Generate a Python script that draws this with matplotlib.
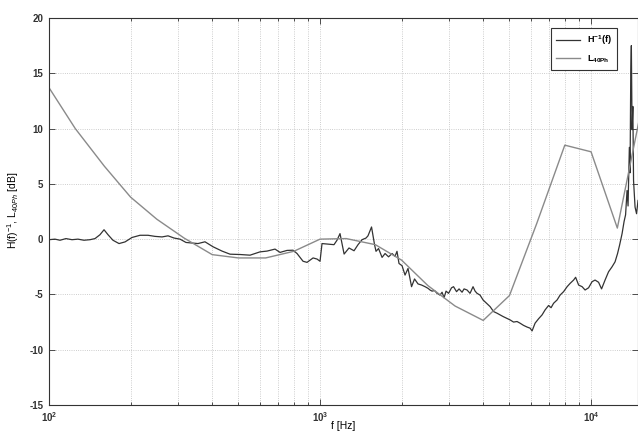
import matplotlib
matplotlib.use('Agg')
import matplotlib.pyplot as plt
from matplotlib.ticker import FixedLocator, FixedFormatter, LogLocator, NullFormatter

# ---- data ----
h_freq = [100, 105.2, 109.8, 115.5, 121.6, 127.9, 134.6, 141.7, 147.8, 154.2,
          159.6, 165.1, 172.2, 181.3, 190.8, 202.4, 216.7, 231.9, 246.1, 261.2,
          274.9, 289.3, 304.4, 320.3, 337.2, 354.5, 376.3, 402.9, 434.9, 465.5,
          506.9, 551.8, 600.6, 637.4, 682.3, 711.9, 755.4, 795.1, 822.5, 865.6,
          895.4, 942.6, 974.8, 1000, 1017, 1070, 1126, 1155, 1185, 1227,
          1279, 1335, 1381, 1429, 1478, 1503, 1549, 1589, 1609, 1644,
          1694, 1738, 1790, 1844, 1891, 1923, 1956, 2007, 2059, 2112,
          2176, 2232, 2299, 2369, 2441, 2503, 2546, 2590, 2646, 2702,
          2772, 2820, 2868, 2917, 2980, 3056, 3109, 3189, 3258, 3342,
          3400, 3487, 3577, 3669, 3733, 3796, 3894, 3995, 4115, 4240,
          4368, 4500, 4617, 4736, 4876, 5023, 5176, 5332, 5470, 5636,
          5806, 5956, 6059, 6215, 6403, 6596, 6767, 6971, 7120, 7273,
          7493, 7687, 7918, 8159, 8370, 8622, 8771, 8997, 9267, 9505,
          9790, 10085, 10346, 10658, 10933, 11264, 11603, 11953, 12262, 12525,
          12740, 13015, 13239, 13408, 13577, 13693, 13845, 13928, 14011, 14082,
          14167, 14262, 14347, 14532, 14717, 14906]
h_db = [-0.05, 0.0, -0.1, 0.05, -0.05, 0.0, -0.1, -0.05, 0.05, 0.4,
        0.85, 0.4, -0.1, -0.4, -0.25, 0.15, 0.35, 0.35, 0.25, 0.2,
        0.3, 0.1, 0.0, -0.3, -0.35, -0.4, -0.24, -0.69, -1.08, -1.36,
        -1.39, -1.45, -1.15, -1.08, -0.9, -1.2, -1.02, -1.0, -1.3, -2.0,
        -2.1, -1.7, -1.8, -2.0, -0.4, -0.45, -0.5, -0.1, 0.5, -1.35,
        -0.8, -1.05, -0.5, -0.05, 0.1, 0.3, 1.1, -0.5, -1.1, -0.85,
        -1.65, -1.3, -1.6, -1.3, -1.55, -1.1, -2.2, -2.4, -3.25, -2.65,
        -4.3, -3.6, -4.05, -4.15, -4.3, -4.45, -4.6, -4.7, -4.65, -4.9,
        -5.06, -4.8, -5.3, -4.7, -4.9, -4.4, -4.3, -4.75, -4.5, -4.8,
        -4.5, -4.6, -4.9, -4.3, -4.7, -4.9, -5.06, -5.5, -5.8, -6.1,
        -6.55, -6.7, -6.85, -7.0, -7.15, -7.3, -7.5, -7.45, -7.6, -7.8,
        -7.95, -8.05, -8.3, -7.6, -7.2, -6.85, -6.4, -6.0, -6.2, -5.8,
        -5.5, -5.06, -4.75, -4.3, -4.0, -3.7, -3.45, -4.15, -4.3, -4.6,
        -4.4, -3.85, -3.7, -3.9, -4.5, -3.7, -2.95, -2.5, -2.05, -1.3,
        -0.55, 0.5, 1.6, 2.2, 4.4, 3.0, 8.3, 6.0, 15.0, 17.5,
        9.9, 12.0, 5.3, 2.9, 2.3, 3.5]

l_freq = [100, 125, 160, 200, 250, 315, 400, 500, 630, 800, 1000, 1250,
          1600, 2000, 2500, 3150, 4000, 5000, 6300, 8000, 10000, 12500, 16000]
l_db = [13.7, 10.0, 6.6, 3.8, 1.8, 0.1, -1.4, -1.7, -1.7, -1.1, 0.0, 0.05,
        -0.5, -1.9, -4.2, -6.05, -7.35, -5.1, 1.4, 8.5, 7.9, 1.0, 14.0]

y_ticks = [-15, -10, -5, 0, 5, 10, 15, 20]
y_tick_labels = ['-15', '-10', '-5', '0', '5', '10', '15', '20']
x_ticks = [100, 1000, 10000]
x_tick_labels = [r'$\mathbf{10^{2}}$', r'$\mathbf{10^{3}}$', r'$\mathbf{10^{4}}$']

# ---- style ----
plt.rcParams['font.family'] = ['Liberation Sans', 'DejaVu Sans']
plt.rcParams['mathtext.fontset'] = 'custom'
plt.rcParams['mathtext.rm'] = 'Liberation Sans'
plt.rcParams['mathtext.it'] = 'Liberation Sans:italic'
plt.rcParams['mathtext.bf'] = 'Liberation Sans:bold'
plt.rcParams['axes.unicode_minus'] = False

fig = plt.figure(figsize=(6.38, 4.32), dpi=100)
ax = fig.add_axes([49 / 638, 27 / 432, 589 / 638, 387 / 432])

ax.plot(h_freq, h_db, color='#333333', lw=0.9, label=r'$\mathbf{H^{-1}(f)}$')
ax.plot(l_freq, l_db, color='#8a8a8a', lw=1.0, label=r'$\mathbf{L_{40Ph}}$')

ax.set_xscale('log')
ax.set_xlim(100, 14900)
ax.set_ylim(-15, 20)

ax.xaxis.set_major_locator(FixedLocator(x_ticks))
ax.xaxis.set_major_formatter(FixedFormatter(x_tick_labels))
ax.xaxis.set_minor_locator(LogLocator(base=10, subs=range(2, 10)))
ax.xaxis.set_minor_formatter(NullFormatter())
ax.yaxis.set_major_locator(FixedLocator(y_ticks))
ax.yaxis.set_major_formatter(FixedFormatter(y_tick_labels))

ax.tick_params(which='both', direction='in', top=True, right=True,
               colors='#333333', width=0.6)
ax.tick_params(which='major', length=4, labelsize=7, pad=4)
ax.tick_params(which='minor', length=2.5)
for lab in ax.get_yticklabels():
    lab.set_fontweight('bold')

ax.grid(True, which='major', ls=':', color='#bdbdbd', lw=0.6)
ax.grid(True, which='minor', axis='x', ls=':', color='#bdbdbd', lw=0.6)
ax.set_axisbelow(True)

for sp in ax.spines.values():
    sp.set_color('#333333')
    sp.set_linewidth(0.8)

ax.set_xlabel('f [Hz]', fontsize=7.5)
ax.xaxis.set_label_coords(0.5, -0.042)
ax.set_ylabel(r'H(f)$^{-1}$, L$_{40Ph}$ [dB]', fontsize=7.5)
ax.yaxis.set_label_coords(-0.048, 0.504)

leg = ax.legend(loc='upper right', bbox_to_anchor=(0.964, 0.974),
                borderaxespad=0, fontsize=6.5, fancybox=False,
                edgecolor='#333333', framealpha=1, handlelength=2.6,
                borderpad=0.55, labelspacing=0.7)
leg.get_frame().set_linewidth(0.8)

fig.savefig('out.png', dpi=100)
